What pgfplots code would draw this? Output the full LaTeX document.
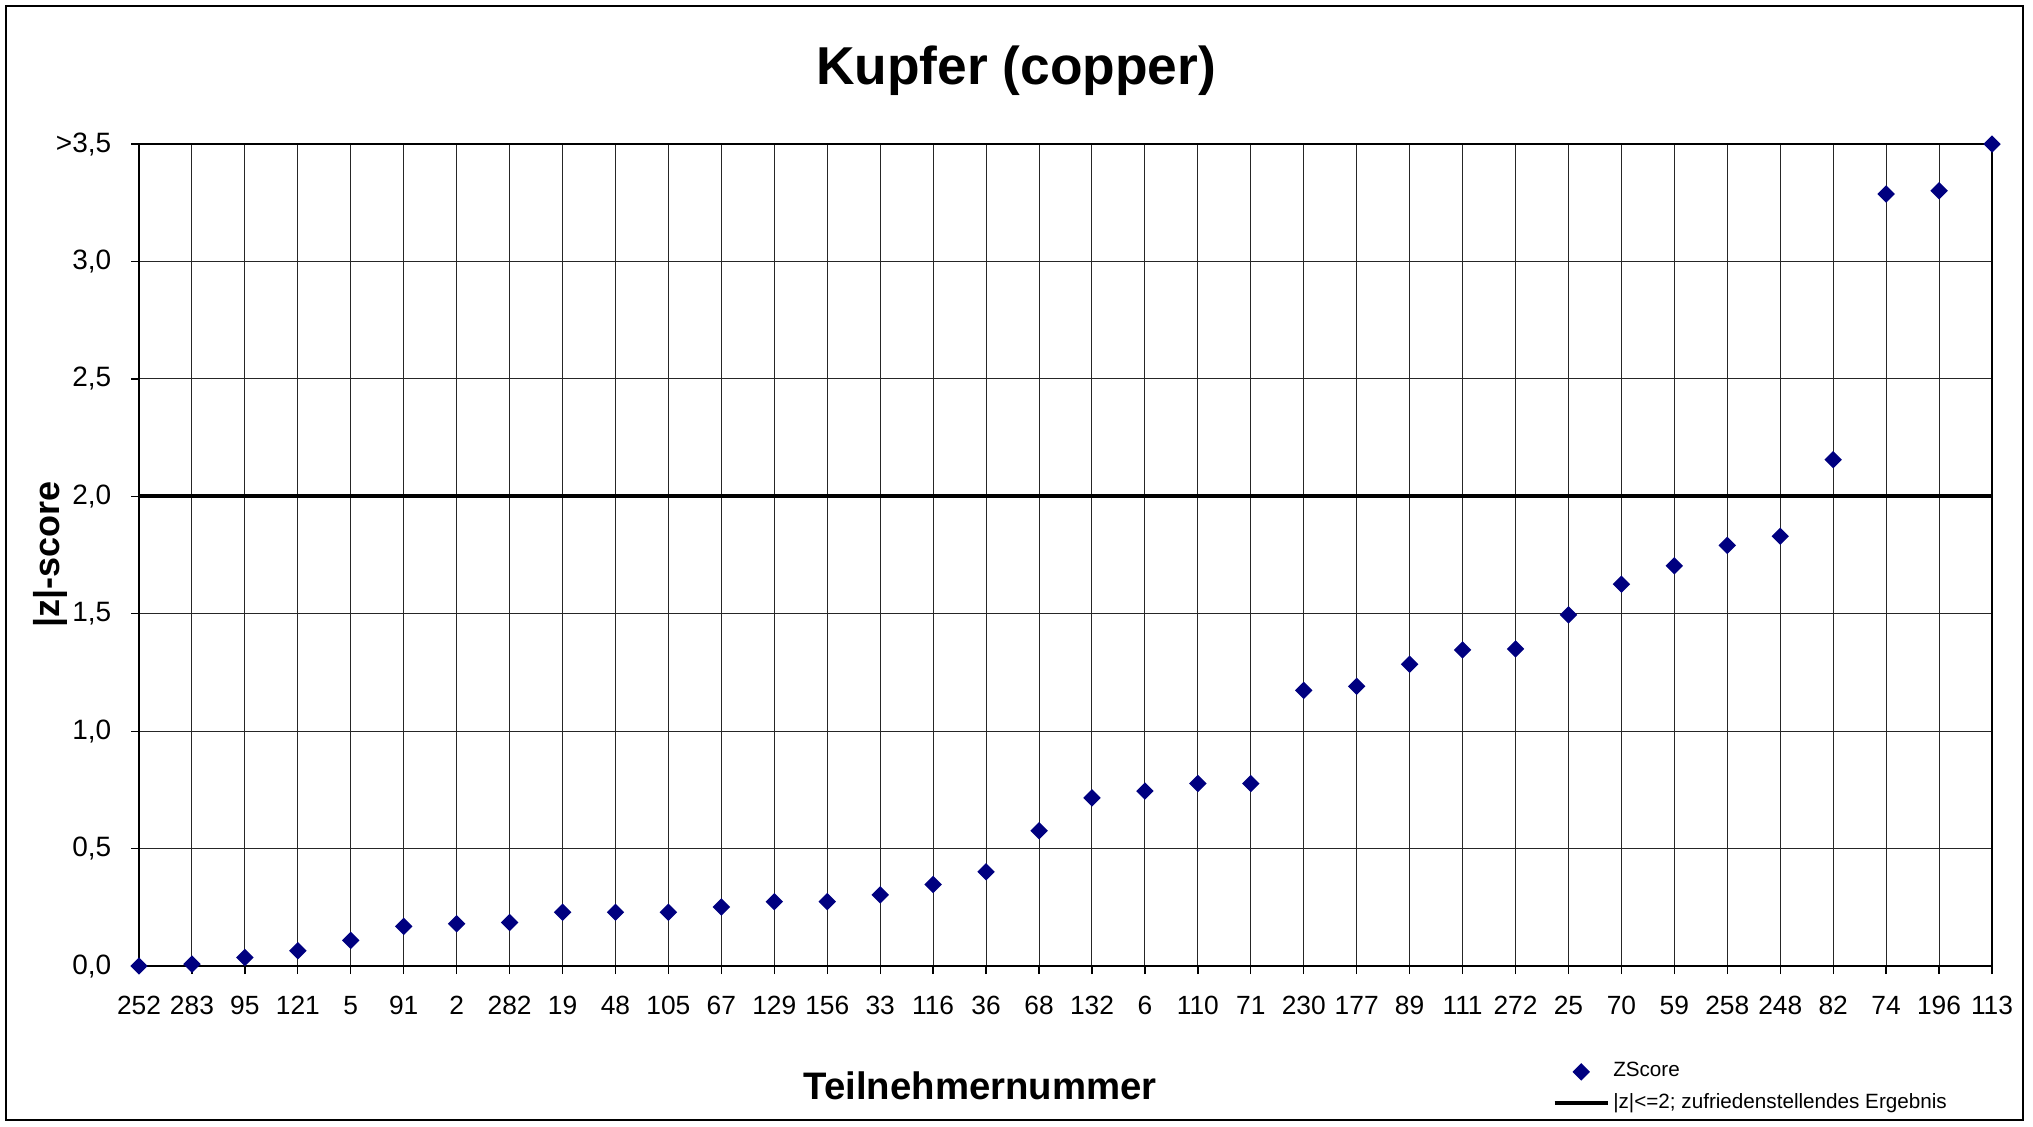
\documentclass[border=0pt]{standalone}
\usepackage{pgfplots}
\pgfplotsset{compat=1.18}
\usepackage{fontspec}
\setmainfont{Liberation Sans}
\definecolor{navy}{RGB}{0,0,128}

\begin{document}
\begin{tikzpicture}
\useasboundingbox (0,0) rectangle (609.9pt,-337.8pt);
\draw[line width=0.4pt] (1.8pt,-1.8pt) rectangle (606.9pt,-336pt);
\begin{axis}[
  at={(41.7pt,-289.8pt)}, anchor=south west,
  scale only axis, width=555.9pt, height=246.6pt,
  xmin=0, xmax=35, ymin=0, ymax=3.5,
  clip=false,
  xtick={0,...,35},
  xticklabels={252,283,95,121,5,91,2,282,19,48,105,67,129,156,33,116,36,68,132,6,110,71,230,177,89,111,272,25,70,59,258,248,82,74,196,113},
  ytick={0,0.5,1,1.5,2,2.5,3,3.5},
  yticklabels={{0,0},{0,5},{1,0},{1,5},{2,0},{2,5},{3,0},{>3,5}},
  xtick pos=bottom, ytick pos=left,
  tick align=outside, major tick length=2.4pt,
  tick style={line width=0.4pt, black},
  grid=major,
  major grid style={line width=0.3pt, black!85},
  axis line style={line width=0.6pt},
  xticklabel style={font=\fontsize{7.9}{9.5}\selectfont, yshift=-3.1pt},
  yticklabel style={font=\fontsize{8.4}{10}\selectfont, xshift=-2.4pt},
  title={Kupfer (copper)},
  title style={at={(axis description cs:0.4733,1.0475)}, anchor=base, font=\bfseries\fontsize{16}{19}\selectfont},
  xlabel={Teilnehmernummer},
  xlabel style={at={(axis description cs:0.4539,-0.1618)}, anchor=base, font=\bfseries\fontsize{11.5}{14}\selectfont},
  ylabel={|z|-score},
  ylabel style={at={(axis description cs:-0.048,0.501)}, anchor=center, font=\bfseries\fontsize{10.8}{13}\selectfont},
  legend style={at={(axis description cs:0.7625,-0.112)}, anchor=north west, draw=none, fill=none, inner sep=0pt,
    font=\fontsize{6.2}{7.5}\selectfont, row sep=1.5pt,
    nodes={inner sep=1pt}},
  legend cell align=left,
]
\addplot[only marks, mark=square*, mark size=1.65pt, mark options={rotate=45}, color=navy,
  legend image code/.code={\draw[mark repeat=2,mark phase=2] plot coordinates {(0pt,0pt)(8pt,0pt)(16pt,0pt)};}]
  coordinates {
  (0,0.000) (1,0.008) (2,0.036) (3,0.065) (4,0.109) (5,0.169) (6,0.180) (7,0.185)
  (8,0.229) (9,0.229) (10,0.229) (11,0.251) (12,0.274) (13,0.274) (14,0.303) (15,0.347)
  (16,0.401) (17,0.576) (18,0.716) (19,0.745) (20,0.777) (21,0.777) (22,1.174) (23,1.191)
  (24,1.285) (25,1.346) (26,1.350) (27,1.495) (28,1.626) (29,1.704) (30,1.791) (31,1.830)
  (32,2.156) (33,3.287) (34,3.301) (35,3.500)
  };
\addlegendentry{ZScore}
\addplot[line width=1.2pt, black,
  legend image code/.code={\draw (0pt,0pt) -- (16pt,0pt);}]
  coordinates {(0,2) (35,2)};
\addlegendentry{|z|<=2; zufriedenstellendes Ergebnis}
\end{axis}
\end{tikzpicture}
\end{document}
